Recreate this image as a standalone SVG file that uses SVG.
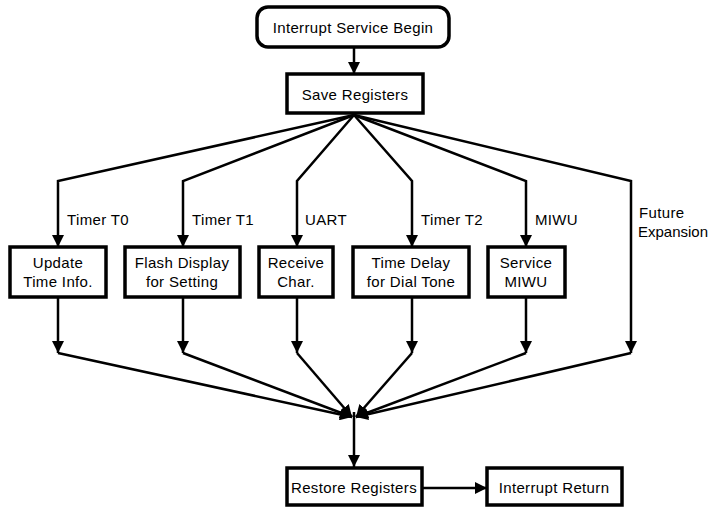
<svg xmlns="http://www.w3.org/2000/svg" width="711" height="508" viewBox="0 0 711 508">
<defs>
<marker id="ah" markerUnits="userSpaceOnUse" viewBox="0 0 12 12" refX="12" refY="6" markerWidth="12" markerHeight="12" orient="auto">
<path d="M0,0 L12,6 L0,12 z" fill="#000"/>
</marker>
</defs>
<style>
rect{fill:#fff;stroke:#000;stroke-width:3.5}
text{font-family:"Liberation Sans",Arial,sans-serif;font-size:15px;letter-spacing:0.35px;fill:#000}
.c{text-anchor:middle}
.ln{fill:none;stroke:#000;stroke-width:2.5;marker-end:url(#ah)}
.pl{fill:none;stroke:#000;stroke-width:2.5}
</style>
<g id="connectors">
<path class="ln" d="M354,47 L354,74"/>
<path class="ln" d="M354,115 L58,181 L58,247"/>
<path class="ln" d="M354,115 L183,181 L183,247"/>
<path class="ln" d="M354,115 L297,181 L297,247"/>
<path class="ln" d="M354,115 L412,181 L412,247"/>
<path class="ln" d="M354,115 L526,181 L526,247"/>
<path class="pl" d="M354,115 L631,181 L631,297"/>
<path class="ln" d="M58,297 L58,353"/>
<path class="ln" d="M183,297 L183,353"/>
<path class="ln" d="M297,297 L297,353"/>
<path class="ln" d="M412,297 L412,353"/>
<path class="ln" d="M526,297 L526,353"/>
<path class="ln" d="M631,297 L631,353"/>
<path class="ln" d="M58,353 L352,417"/>
<path class="ln" d="M183,353 L352,417"/>
<path class="ln" d="M297,353 L352,417"/>
<path class="ln" d="M412,353 L356,417"/>
<path class="ln" d="M526,353 L356,417"/>
<path class="ln" d="M631,353 L356,417"/>
<path class="ln" d="M354,412 L354,467"/>
<path class="ln" d="M422,488 L487,488"/>
<text x="67" y="225">Timer T0</text>
<text x="192" y="225">Timer T1</text>
<text x="305" y="225">UART</text>
<text x="421" y="225">Timer T2</text>
<text x="535" y="225">MIWU</text>
<text x="639" y="218">Future</text>
<text x="638" y="237" style="letter-spacing:0">Expansion</text>
</g>
<g id="begin">
<rect x="257" y="7" width="192" height="40" rx="11"/>
<text class="c" x="353" y="33">Interrupt Service Begin</text>
</g>
<g id="save">
<rect x="287" y="74" width="136" height="39"/>
<text class="c" x="355" y="100">Save Registers</text>
</g>
<g id="update">
<rect x="10" y="247" width="96" height="50"/>
<text class="c" x="58" y="268">Update</text>
<text class="c" x="58" y="287">Time Info.</text>
</g>
<g id="flash">
<rect x="125" y="247" width="115" height="50"/>
<text class="c" x="182" y="268">Flash Display</text>
<text class="c" x="182" y="287">for Setting</text>
</g>
<g id="receive">
<rect x="259" y="247" width="74" height="50"/>
<text class="c" x="296" y="268">Receive</text>
<text class="c" x="296" y="287">Char.</text>
</g>
<g id="timedelay">
<rect x="353" y="247" width="116" height="50"/>
<text class="c" x="411" y="268">Time Delay</text>
<text class="c" x="411" y="287">for Dial Tone</text>
</g>
<g id="miwu">
<rect x="488" y="247" width="77" height="50"/>
<text class="c" x="526" y="268">Service</text>
<text class="c" x="526" y="287">MIWU</text>
</g>
<g id="restore">
<rect x="287" y="468" width="135" height="37"/>
<text class="c" x="354" y="493">Restore Registers</text>
</g>
<g id="return">
<rect x="487" y="468" width="135" height="37"/>
<text class="c" x="554" y="493">Interrupt Return</text>
</g>
</svg>
